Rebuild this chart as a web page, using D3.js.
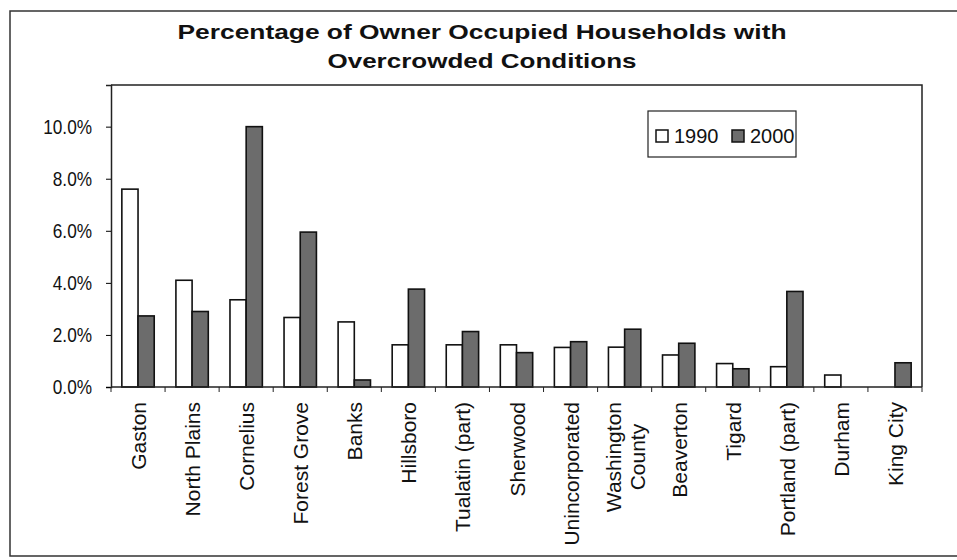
<!DOCTYPE html>
<html>
<head>
<meta charset="utf-8">
<script src="https://cdn.jsdelivr.net/npm/d3@7"></script>
<style>
  body { margin: 0; background: #fff; }
  text { font-family: "Liberation Sans", Arial, sans-serif; fill: #111; }
</style>
</head>
<body>
<svg id="chart" width="957" height="560"></svg>
<script>
var places = ["Gaston", "North Plains", "Cornelius", "Forest Grove", "Banks", "Hillsboro",
  "Tualatin (part)", "Sherwood", "Unincorporated", "Washington County", "Beaverton",
  "Tigard", "Portland (part)", "Durham", "King City"];
var years = ["1990", "2000"];
var values1990 = [7.6, 4.1, 3.35, 2.67, 2.5, 1.62, 1.62, 1.62, 1.52, 1.53, 1.23, 0.9, 0.78, 0.46, 0];
var values2000 = [2.73, 2.9, 10.0, 5.95, 0.27, 3.76, 2.13, 1.32, 1.74, 2.22, 1.68, 0.7, 3.67, 0, 0.93];
var yTicks = [0, 2, 4, 6, 8, 10];
var titleLines = ["Percentage of Owner Occupied Households with", "Overcrowded Conditions"];

var svg = d3.select("#chart");
var plotLeft = 111, plotRight = 922, plotTop = 85, plotBottom = 387;

// outer frame (open on the right, like the scan)
svg.append("path")
  .attr("d", "M960,11H10V556H960")
  .attr("fill", "none")
  .attr("stroke", "#333")
  .attr("stroke-width", 1.5);

svg.selectAll(".title")
  .data(titleLines)
  .enter()
  .append("text")
  .attr("class", "title")
  .attr("x", 482)
  .attr("y", function (d, i) { return 39 + i * 29; })
  .attr("text-anchor", "middle")
  .attr("font-size", 21)
  .attr("font-weight", "bold")
  .attr("textLength", function (d, i) { return i === 0 ? 609 : 309; })
  .attr("lengthAdjust", "spacingAndGlyphs")
  .text(function (d) { return d; });

var x0 = d3.scaleBand().domain(places).range([plotLeft, plotRight]).padding(0);
var x1 = d3.scaleBand().domain(years).range([0, x0.bandwidth()]).paddingInner(0).paddingOuter(0.67);
var y = d3.scaleLinear().domain([0, 11.6]).range([plotBottom, plotTop]);

// plot box top and right
svg.append("path")
  .attr("d", `M${plotLeft},${plotTop}H${plotRight}V${plotBottom}`)
  .attr("fill", "none")
  .attr("stroke", "#222")
  .attr("stroke-width", 1.5);

var rows = places.map(function (p, i) {
  return { place: p, vals: [{ year: "1990", v: values1990[i] }, { year: "2000", v: values2000[i] }] };
});

var groups = svg.append("g")
  .selectAll("g")
  .data(rows)
  .enter()
  .append("g")
  .attr("transform", function (d) { return `translate(${x0(d.place)},0)`; });

groups.selectAll("rect")
  .data(function (d) { return d.vals.filter(function (e) { return e.v > 0; }); })
  .enter()
  .append("rect")
  .attr("x", function (d) { return x1(d.year); })
  .attr("width", x1.bandwidth())
  .attr("y", function (d) { return y(d.v); })
  .attr("height", function (d) { return plotBottom - y(d.v); })
  .attr("fill", function (d) { return d.year === "1990" ? "#fff" : "#6c6c6c"; })
  .attr("stroke", "#111")
  .attr("stroke-width", 1.6);

// y axis
var yAxis = svg.append("g")
  .attr("transform", `translate(${plotLeft},0)`)
  .call(d3.axisLeft(y).tickValues(yTicks).tickSize(5).tickPadding(14)
    .tickFormat(function (d) { return d3.format(".1f")(d) + "%"; }));
yAxis.select(".domain").attr("stroke", "#222").attr("stroke-width", 1.5);
yAxis.selectAll("text")
  .attr("font-size", 20)
  .attr("font-family", "Liberation Sans, Arial, sans-serif")
  .attr("fill", "#111")
  .each(function () {
    // the scan squeezes these labels sideways
    var w = this.getComputedTextLength();
    d3.select(this).attr("textLength", w * 0.86).attr("lengthAdjust", "spacingAndGlyphs");
  });

// x axis, ticks at category boundaries
var xAxis = svg.append("g").attr("transform", `translate(0,${plotBottom})`);
xAxis.append("line")
  .attr("x1", plotLeft).attr("x2", plotRight)
  .attr("stroke", "#222").attr("stroke-width", 1.5);
xAxis.selectAll(".tk")
  .data(places.concat(["end"]))
  .enter()
  .append("line")
  .attr("x1", function (d, i) { return plotLeft + i * x0.step(); })
  .attr("x2", function (d, i) { return plotLeft + i * x0.step(); })
  .attr("y1", 0).attr("y2", 5)
  .attr("stroke", "#222");

// rotated category labels
var labelTop = 402;
places.forEach(function (p) {
  var lines = p === "Washington County" ? ["Washington", "County"] : [p];
  var cx = x0(p) + x0.bandwidth() / 2;
  var g = svg.append("g");
  var texts = g.selectAll("text")
    .data(lines)
    .enter()
    .append("text")
    .attr("font-size", 21)
    .attr("text-anchor", "middle")
    .text(function (d) { return d; });
  var maxLen = d3.max(texts.nodes(), function (n) { return n.getComputedTextLength(); });
  var cy = labelTop + maxLen / 2;
  texts.attr("transform", function (d, i) {
    var off = (i - (lines.length - 1) / 2) * 24;
    return `translate(${cx + off + 8},${cy}) rotate(-90)`;
  });
});

// legend
var legend = svg.append("g").attr("transform", "translate(648,111)");
legend.append("rect")
  .attr("width", 148).attr("height", 46)
  .attr("fill", "#fff").attr("stroke", "#222").attr("stroke-width", 1.2);
var legendClip = svg.append("defs").append("clipPath").attr("id", "lgclip");
legendClip.append("rect").attr("width", 147).attr("height", 46);
var items = legend.append("g").attr("clip-path", "url(#lgclip)");
var itemX = [8, 84];
years.forEach(function (yr, i) {
  items.append("rect")
    .attr("x", itemX[i]).attr("y", 19)
    .attr("width", 12).attr("height", 12)
    .attr("fill", yr === "1990" ? "#fff" : "#6c6c6c")
    .attr("stroke", "#111").attr("stroke-width", 1.5);
  items.append("text")
    .attr("x", itemX[i] + 18).attr("y", 32)
    .attr("font-size", 20)
    .text(yr);
});
</script>
</body>
</html>
